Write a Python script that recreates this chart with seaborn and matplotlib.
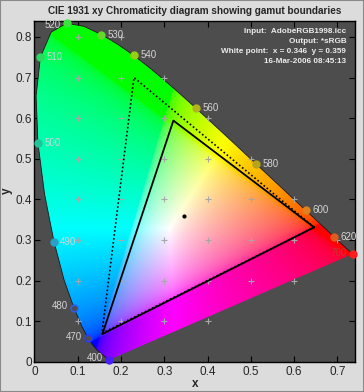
import numpy as np
import pandas as pd
import matplotlib
matplotlib.use("Agg")
import matplotlib.pyplot as plt
import seaborn as sns
from matplotlib.patches import Polygon, Rectangle
from matplotlib.path import Path

# ---------------- data ----------------
# CIE 1931 2-degree spectral locus, 400..700 nm in 5 nm steps
locus_nm = list(range(400, 705, 5))
locus_x = [0.1733, 0.1730, 0.1726, 0.1721, 0.1714, 0.1703, 0.1689, 0.1669, 0.1644, 0.1611,
           0.1566, 0.1510, 0.1440, 0.1355, 0.1241, 0.1096, 0.0913, 0.0687, 0.0454, 0.0235,
           0.0082, 0.0039, 0.0139, 0.0389, 0.0743, 0.1142, 0.1547, 0.1929, 0.2296, 0.2658,
           0.3016, 0.3373, 0.3731, 0.4087, 0.4441, 0.4788, 0.5125, 0.5448, 0.5752, 0.6029,
           0.6270, 0.6482, 0.6658, 0.6801, 0.6915, 0.7006, 0.7079, 0.7140, 0.7190, 0.7230,
           0.7260, 0.7283, 0.7300, 0.7311, 0.7320, 0.7327, 0.7334, 0.7340, 0.7344, 0.7346,
           0.7347]
locus_y = [0.0048, 0.0048, 0.0048, 0.0048, 0.0051, 0.0058, 0.0069, 0.0086, 0.0109, 0.0138,
           0.0177, 0.0227, 0.0297, 0.0399, 0.0578, 0.0868, 0.1327, 0.2007, 0.2950, 0.4127,
           0.5384, 0.6548, 0.7502, 0.8120, 0.8338, 0.8262, 0.8059, 0.7816, 0.7543, 0.7243,
           0.6923, 0.6589, 0.6245, 0.5896, 0.5547, 0.5202, 0.4866, 0.4544, 0.4242, 0.3965,
           0.3725, 0.3514, 0.3340, 0.3197, 0.3083, 0.2993, 0.2920, 0.2859, 0.2809, 0.2770,
           0.2740, 0.2717, 0.2700, 0.2689, 0.2680, 0.2673, 0.2666, 0.2660, 0.2656, 0.2654,
           0.2653]

label_nm = [400, 470, 480, 490, 500, 510, 520, 530, 540, 560, 580, 600, 620, 700]
label_colors = ["#4a1cff", "#2a3cff", "#2f5cf0", "#2aa0c8", "#22c49a", "#2ed860",
                "#3ae63a", "#62d82a", "#96d010", "#b4b41e", "#b8a41c", "#e0801e",
                "#e05c1e", "#ff1e1e"]

# input gamut (dotted) and output gamut (solid): R, G, B corners
input_x = [0.646, 0.230, 0.156]
input_y = [0.331, 0.700, 0.070]
output_x = [0.646, 0.321, 0.157]
output_y = [0.331, 0.594, 0.068]

white_x = [0.346]
white_y = [0.359]

info_lines = ["Input:  AdobeRGB1998.icc",
              "Output: *sRGB",
              "White point:  x = 0.346  y = 0.359",
              "16-Mar-2006 08:45:13"]

x_ticks = [0, 0.1, 0.2, 0.3, 0.4, 0.5, 0.6, 0.7]
x_ticklabels = ["0", "0.1", "0.2", "0.3", "0.4", "0.5", "0.6", "0.7"]
y_ticks = [0, 0.1, 0.2, 0.3, 0.4, 0.5, 0.6, 0.7, 0.8]
y_ticklabels = ["0", "0.1", "0.2", "0.3", "0.4", "0.5", "0.6", "0.7", "0.8"]

title = "CIE 1931 xy Chromaticity diagram showing gamut boundaries"

# ---------------- style ----------------
sns.set_style("ticks")
plt.rcParams["font.family"] = ["Liberation Sans", "DejaVu Sans"]

FIG_BG = "#dcdcdc"
AX_BG = "#4d4d4d"
XMAX, YMAX = 0.74, 0.84

fig = plt.figure(figsize=(3.64, 3.92), dpi=100, facecolor=FIG_BG)
ax = fig.add_axes([34.4 / 364, 30.3 / 392, 320.4 / 364, 341.0 / 392])
ax.set_facecolor(AX_BG)
ax.set_xlim(0, XMAX)
ax.set_ylim(0, YMAX)

# ---------------- colour fill of the locus ----------------
gx = np.linspace(0, XMAX, 740)
gy = np.linspace(0.0005, YMAX, 840)
GX, GY = np.meshgrid(gx, gy)
XYZ = np.stack([GX / GY, np.ones_like(GX), (1 - GX - GY) / GY], axis=-1)
M = np.array([[3.2406, -1.5372, -0.4986],
              [-0.9689, 1.8758, 0.0415],
              [0.0557, -0.2040, 1.0570]])
rgb = np.clip(XYZ @ M.T, 0, None)
rgb = rgb / (rgb.max(axis=-1, keepdims=True) + 1e-12)
rgb = np.clip(rgb, 0, 1) ** (1 / 2.9)

locus_pts = np.column_stack([locus_x, locus_y])
poly = Polygon(locus_pts, closed=True, facecolor="none", edgecolor="none",
               transform=ax.transData)
ax.add_patch(poly)
im = ax.imshow(rgb, extent=[0, XMAX, 0, YMAX], origin="lower",
               interpolation="bilinear", aspect="auto", zorder=1)
im.set_clip_path(poly)

# locus outline
locus_df = pd.DataFrame({"x": locus_x, "y": locus_y, "o": range(len(locus_x))})
sns.lineplot(data=locus_df, x="x", y="y", sort=False, estimator=None,
             color="#1a1a1a", lw=0.6, ax=ax, zorder=2)

# ---------------- grid "+" marks near the locus ----------------
def dist_to_poly(px, py, pts):
    a = pts
    b = np.roll(pts, -1, axis=0)
    ab = b - a
    ap = np.array([px, py]) - a
    t = np.clip((ap * ab).sum(1) / (ab * ab).sum(1), 0, 1)
    proj = a + ab * t[:, None]
    return np.sqrt(((proj - np.array([px, py])) ** 2).sum(1)).min()

lp = Path(locus_pts)
gpx, gpy = [], []
for gxv in x_ticks[1:]:
    for gyv in y_ticks[1:]:
        inside = lp.contains_point((gxv, gyv))
        if inside or dist_to_poly(gxv, gyv, locus_pts) < 0.025:
            gpx.append(gxv)
            gpy.append(gyv)
sns.scatterplot(x=gpx, y=gpy, marker="+", s=24, linewidth=0.8,
                color="#a8a8a8", ax=ax, zorder=3, legend=False)

# ---------------- gamut triangles ----------------
def closed(xs, ys):
    return pd.DataFrame({"x": list(xs) + [xs[0]], "y": list(ys) + [ys[0]],
                         "o": range(len(xs) + 1)})

sns.lineplot(data=closed(input_x, input_y), x="x", y="y", sort=False,
             estimator=None, color="black", lw=1.2, ls=(0, (1, 1.4)),
             ax=ax, zorder=4)
sns.lineplot(data=closed(output_x, output_y), x="x", y="y", sort=False,
             estimator=None, color="black", lw=1.3, ax=ax, zorder=5)

# white point
sns.scatterplot(x=white_x, y=white_y, color="black", s=9, linewidth=0,
                ax=ax, zorder=6, legend=False)

# ---------------- wavelength markers and labels ----------------
idx = [locus_nm.index(n) for n in label_nm]
lx = [locus_x[i] for i in idx]
ly = [locus_y[i] for i in idx]
hollow = {470, 480}
left_side = {400, 470, 480, 520, 700}
for n, x, y, c in zip(label_nm, lx, ly, label_colors):
    fc = AX_BG if n in hollow else c
    sns.scatterplot(x=[x], y=[y], s=24, color=fc, edgecolor=c,
                    linewidth=1.1, ax=ax, zorder=7, legend=False)
    tc = "#c83232" if n == 700 else "#d4d4d4"
    dy = -1.5 if n == 520 else (1 if n in left_side else 0)
    if n in left_side:
        t = ax.annotate(str(n), (x, y), xytext=(-4.5, dy), textcoords="offset points",
                        ha="right", va="center", fontsize=7, color=tc, zorder=8,
                        annotation_clip=False)
    else:
        t = ax.annotate(str(n), (x, y), xytext=(4.5, 0), textcoords="offset points",
                        ha="left", va="center", fontsize=7, color=tc, zorder=8,
                        annotation_clip=False)
    t.set_clip_on(False)
for coll in ax.collections:
    coll.set_clip_on(False)

# ---------------- info text ----------------
info_texts = []
for k, line in enumerate(info_lines):
    info_texts.append(ax.text(0.973, 0.969 - k * 0.0299, line, transform=ax.transAxes,
                              ha="right", va="center", fontsize=7, fontweight="bold",
                              color="#ececec", zorder=9))

# ---------------- axes cosmetics ----------------
ax.set_xticks(x_ticks)
ax.set_xticklabels(x_ticklabels)
ax.set_yticks(y_ticks)
ax.set_yticklabels(y_ticklabels)
ax.tick_params(axis="both", direction="in", length=4, width=0.8, color="black",
               labelsize=8.5, top=True, right=True)
ax.tick_params(axis="x", pad=3)
ax.tick_params(axis="y", pad=1.5)
for s in ax.spines.values():
    s.set_visible(True)
    s.set_color("black")
    s.set_linewidth(1.0)
ax.set_xlabel("")
ax.set_ylabel("")

fig.text(195 / 364, 1 - 384 / 392, "x", ha="center", va="center",
         fontsize=8.5, fontweight="bold")
fig.text(7 / 364, 1 - 191 / 392, "y", ha="center", va="center",
         fontsize=8.5, fontweight="bold", rotation=90)
title_t = fig.text(194.6 / 364, 1 - 10.5 / 392, title, ha="center", va="center",
                   fontsize=8.6, fontweight="bold")

# fit text widths to the reference widths (pixels)
fig.canvas.draw()
rend = fig.canvas.get_renderer()
def fit(t, target):
    w = t.get_window_extent(rend).width
    t.set_fontsize(t.get_fontsize() * target / w)
fit(title_t, 292)
targets = {0: 102, 1: 57, 3: 82}
scales = [targets[k] / info_texts[k].get_window_extent(rend).width for k in targets]
scale = float(np.mean(scales))
for t in info_texts:
    t.set_fontsize(t.get_fontsize() * scale)

fig.patches.append(Rectangle((0, 0), 1, 1, transform=fig.transFigure,
                             fill=False, edgecolor="#8a8a8a", lw=1.5))

fig.savefig("out.png", dpi=100, facecolor=FIG_BG)
